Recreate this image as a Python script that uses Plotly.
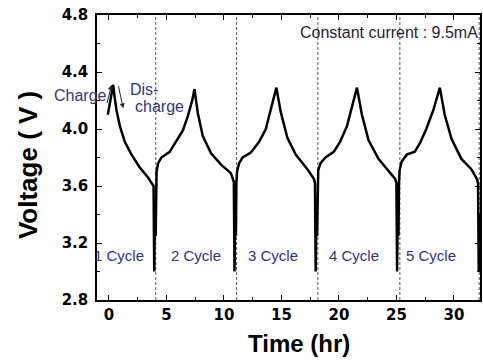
import plotly.graph_objects as go

# ---- data ----
time_hr = [
    -0.10, 0.10, 0.25, 0.37, 0.50, 0.66, 0.95, 1.38, 1.96, 2.68, 3.40, 3.75, 3.88,
    3.94, 4.00, 4.06, 4.10,
    4.14, 4.28, 4.56, 5.28, 5.85, 6.43, 6.86, 7.24, 7.44,
    7.73, 8.16, 8.88, 9.75, 10.60, 10.86,
    10.92, 10.98, 11.04, 11.08,
    11.14, 11.32, 11.62, 12.34, 13.06, 13.64, 14.07, 14.56,
    14.94, 15.51, 16.24, 17.24, 17.82, 17.92,
    17.98, 18.04, 18.10, 18.14,
    18.20, 18.40, 18.83, 19.55, 20.10, 20.70, 21.13, 21.57,
    22.00, 22.58, 23.44, 24.30, 24.89, 25.00,
    25.06, 25.12, 25.18, 25.22,
    25.28, 25.45, 25.90, 26.60, 27.10, 27.60, 28.20, 28.78,
    29.20, 29.80, 30.65, 31.50, 32.00, 32.10,
    32.16, 32.22,
]
voltage_v = [
    4.10, 4.18, 4.25, 4.31, 4.22, 4.13, 4.02, 3.91, 3.82, 3.73, 3.66, 3.62, 3.60,
    3.00, 3.45, 3.25, 3.62,
    3.70, 3.76, 3.80, 3.84, 3.91, 3.99, 4.09, 4.20, 4.28,
    4.11, 3.95, 3.83, 3.75, 3.69, 3.63,
    3.00, 3.45, 3.25, 3.62,
    3.70, 3.76, 3.80, 3.835, 3.91, 4.00, 4.13, 4.29,
    4.12, 3.94, 3.82, 3.72, 3.65, 3.62,
    3.00, 3.45, 3.25, 3.62,
    3.71, 3.76, 3.80, 3.84, 3.91, 4.02, 4.15, 4.29,
    4.10, 3.92, 3.79, 3.71, 3.65, 3.62,
    3.00, 3.45, 3.25, 3.62,
    3.71, 3.77, 3.82, 3.84, 3.91, 4.00, 4.13, 4.29,
    4.10, 3.93, 3.79, 3.72, 3.65, 3.62,
    3.00, 3.40,
]

cycle_boundaries = [4.07, 11.10, 18.17, 25.30, 32.20]
cycle_labels = ["1 Cycle", "2 Cycle", "3 Cycle", "4 Cycle", "5 Cycle"]
cycle_label_x = [0.87, 7.53, 14.30, 21.28, 28.03]
cycle_label_y = 3.11

x_tickvals = [0, 5, 10, 15, 20, 25, 30]
y_tickvals = [2.8, 3.2, 3.6, 4.0, 4.4, 4.8]
y_ticktext = ["2.8", "3.2", "3.6", "4.0", "4.4", "4.8"]

# ---- figure ----
fig = go.Figure()
fig.add_trace(go.Scatter(
    x=time_hr, y=voltage_v, mode="lines",
    line=dict(color="black", width=2.5),
    showlegend=False, hoverinfo="skip",
))

for xb in cycle_boundaries:
    fig.add_shape(type="line", xref="x", yref="y", x0=xb, x1=xb, y0=2.8, y1=4.8,
                  line=dict(color="#555555", width=1, dash="3px,2px"), layer="below")

label_color = "#33337a"
for lbl, lx in zip(cycle_labels, cycle_label_x):
    fig.add_annotation(x=lx, y=cycle_label_y, xref="x", yref="y", text=lbl,
                       showarrow=False, font=dict(family="Arial", size=15, color=label_color))

fig.add_annotation(x=1.0, y=4.674, xref="paper", yref="y", xanchor="right", yanchor="middle",
                   text="Constant current : 9.5mA", showarrow=False,
                   font=dict(family="Arial", size=16, color="#1e1e3a"))

fig.add_annotation(x=-0.0442, y=4.232, xref="paper", yref="y", text="Charge",
                   xanchor="center", yanchor="middle",
                   showarrow=False, font=dict(family="Arial", size=16, color=label_color))
fig.add_annotation(x=1.64, y=4.274, xref="x", yref="y", text="Dis-", xanchor="left",
                   showarrow=False, font=dict(family="Arial", size=16, color=label_color))
fig.add_annotation(x=2.08, y=4.155, xref="x", yref="y", text="charge", xanchor="left",
                   showarrow=False, font=dict(family="Arial", size=16, color=label_color))

# arrows
fig.add_annotation(x=0.23, y=4.31, ax=-0.2, ay=4.17, xref="x", yref="y", axref="x", ayref="y",
                   text="", showarrow=True, arrowhead=2, arrowsize=1, arrowwidth=1, arrowcolor="#222")
fig.add_annotation(x=1.24, y=4.145, ax=0.80, ay=4.31, xref="x", yref="y", axref="x", ayref="y",
                   text="", showarrow=True, arrowhead=2, arrowsize=1, arrowwidth=1, arrowcolor="#222")

# axis titles
fig.add_annotation(x=-0.182, y=0.4745, xref="paper", yref="paper", text="<b>Voltage ( V )</b>",
                   xanchor="center", yanchor="middle",
                   textangle=-90, showarrow=False, font=dict(family="Arial", size=26, color="black"))
fig.add_annotation(x=0.527, y=-0.151, xref="paper", yref="paper", text="<b>Time (hr)</b>",
                   xanchor="center", yanchor="middle",
                   showarrow=False, font=dict(family="Arial", size=24, color="black"))

tickfont = dict(family="DejaVu Sans", size=15, color="black", weight="bold")
fig.update_xaxes(
    range=[-1.04, 32.27], tickvals=x_tickvals, ticks="inside", ticklen=5, tickwidth=1,
    tickcolor="black", showline=True, linecolor="black", linewidth=1.5, mirror="ticks",
    showgrid=False, zeroline=False, tickfont=tickfont,
    minor=dict(dtick=2.5, tick0=0, ticks="inside", ticklen=3, tickcolor="black", showgrid=False),
)
fig.update_yaxes(
    range=[2.8, 4.8], tickvals=y_tickvals, ticktext=y_ticktext, ticks="inside", ticklen=5,
    tickwidth=1, tickcolor="black", showline=True, linecolor="black", linewidth=1.5,
    mirror="ticks", showgrid=False, zeroline=False, tickfont=tickfont, ticklabelstandoff=4,
    minor=dict(dtick=0.2, tick0=2.8, ticks="inside", ticklen=3, tickcolor="black", showgrid=False),
)
fig.update_layout(
    width=483, height=362, margin=dict(l=97, r=1, t=15, b=62),
    plot_bgcolor="white", paper_bgcolor="white",
)
fig.write_html("out.html")
